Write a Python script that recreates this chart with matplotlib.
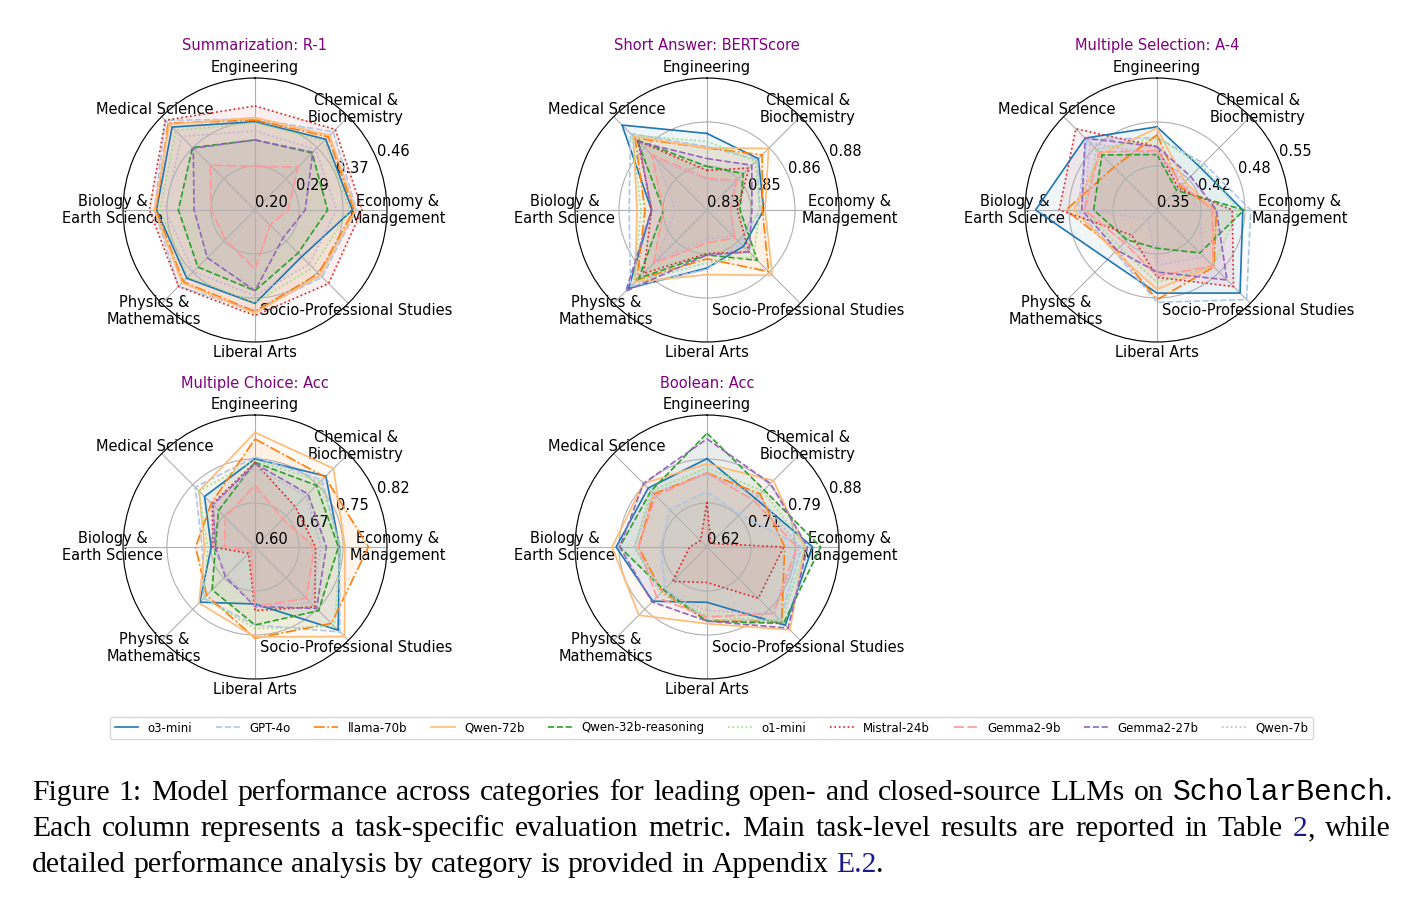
import numpy as np
import matplotlib.pyplot as plt
from matplotlib.lines import Line2D

categories = ['Engineering', 'Chemical &\nBiochemistry', 'Economy &\nManagement',
              'Socio-Professional Studies', 'Liberal Arts', 'Physics &\nMathematics',
              'Biology &\nEarth Science', 'Medical Science']
models = ['o3-mini', 'GPT-4o', 'llama-70b', 'Qwen-72b', 'Qwen-32b-reasoning',
          'o1-mini', 'Mistral-24b', 'Gemma2-9b', 'Gemma2-27b', 'Qwen-7b']

# values per model, categories in the order above
summ_r1 = {
    'o3-mini':            [0.374, 0.397, 0.392, 0.330, 0.384, 0.390, 0.394, 0.431],
    'GPT-4o':             [0.379, 0.418, 0.400, 0.387, 0.398, 0.413, 0.398, 0.450],
    'llama-70b':          [0.377, 0.404, 0.395, 0.377, 0.400, 0.400, 0.395, 0.442],
    'Qwen-72b':           [0.382, 0.408, 0.398, 0.382, 0.403, 0.403, 0.398, 0.439],
    'Qwen-32b-reasoning': [0.338, 0.359, 0.343, 0.320, 0.359, 0.359, 0.351, 0.374],
    'o1-mini':            [0.372, 0.392, 0.387, 0.361, 0.382, 0.387, 0.387, 0.421],
    'Mistral-24b':        [0.405, 0.424, 0.411, 0.405, 0.408, 0.413, 0.408, 0.450],
    'Gemma2-9b':          [0.286, 0.320, 0.265, 0.242, 0.317, 0.283, 0.286, 0.325],
    'Gemma2-27b':         [0.338, 0.361, 0.299, 0.278, 0.359, 0.333, 0.320, 0.372],
    'Qwen-7b':            [0.356, 0.369, 0.361, 0.351, 0.369, 0.372, 0.377, 0.405],
}
short_bert = {
    'o3-mini':            [0.859, 0.8575, 0.8515, 0.8495, 0.852, 0.872, 0.851, 0.8755],
    'GPT-4o':             [0.854, 0.857, 0.850, 0.848, 0.8525, 0.871, 0.8595, 0.871],
    'llama-70b':          [0.8535, 0.8595, 0.851, 0.863, 0.8485, 0.8675, 0.8535, 0.8685],
    'Qwen-72b':           [0.8535, 0.863, 0.852, 0.865, 0.8545, 0.8685, 0.8565, 0.8695],
    'Qwen-32b-reasoning': [0.8465, 0.8495, 0.8425, 0.857, 0.847, 0.8665, 0.8465, 0.8675],
    'o1-mini':            [0.856, 0.856, 0.850, 0.855, 0.850, 0.869, 0.855, 0.870],
    'Mistral-24b':        [0.845, 0.8525, 0.8415, 0.8525, 0.8465, 0.864, 0.851, 0.867],
    'Gemma2-9b':          [0.842, 0.846, 0.839, 0.845, 0.8425, 0.8585, 0.8465, 0.8595],
    'Gemma2-27b':         [0.8495, 0.854, 0.847, 0.8525, 0.847, 0.8735, 0.851, 0.8665],
    'Qwen-7b':            [0.8415, 0.845, 0.839, 0.844, 0.841, 0.857, 0.842, 0.857],
}
msel_a4 = {
    'o3-mini':            [0.476, 0.442, 0.480, 0.528, 0.476, 0.456, 0.534, 0.504],
    'GPT-4o':             [0.460, 0.450, 0.492, 0.542, 0.490, 0.440, 0.470, 0.500],
    'llama-70b':          [0.464, 0.400, 0.440, 0.472, 0.486, 0.436, 0.488, 0.442],
    'Qwen-72b':           [0.474, 0.410, 0.436, 0.470, 0.470, 0.440, 0.476, 0.470],
    'Qwen-32b-reasoning': [0.434, 0.392, 0.482, 0.442, 0.408, 0.414, 0.446, 0.468],
    'o1-mini':            [0.460, 0.446, 0.474, 0.470, 0.460, 0.430, 0.460, 0.480],
    'Mistral-24b':        [0.446, 0.396, 0.464, 0.514, 0.452, 0.404, 0.498, 0.524],
    'Gemma2-9b':          [0.440, 0.404, 0.434, 0.470, 0.450, 0.420, 0.460, 0.474],
    'Gemma2-27b':         [0.446, 0.422, 0.440, 0.500, 0.444, 0.436, 0.464, 0.504],
    'Qwen-7b':            [0.434, 0.410, 0.414, 0.450, 0.434, 0.370, 0.460, 0.494],
}
mc_acc = {
    'o3-mini':            [0.747, 0.767, 0.741, 0.796, 0.695, 0.730, 0.673, 0.719],
    'GPT-4o':             [0.750, 0.758, 0.741, 0.800, 0.730, 0.721, 0.688, 0.741],
    'llama-70b':          [0.780, 0.765, 0.789, 0.780, 0.752, 0.714, 0.699, 0.703],
    'Qwen-72b':           [0.791, 0.785, 0.750, 0.811, 0.750, 0.732, 0.684, 0.732],
    'Qwen-32b-reasoning': [0.741, 0.745, 0.739, 0.750, 0.730, 0.701, 0.666, 0.686],
    'o1-mini':            [0.745, 0.754, 0.743, 0.787, 0.736, 0.721, 0.679, 0.732],
    'Mistral-24b':        [0.741, 0.695, 0.701, 0.741, 0.706, 0.615, 0.670, 0.701],
    'Gemma2-9b':          [0.703, 0.666, 0.699, 0.721, 0.699, 0.609, 0.651, 0.670],
    'Gemma2-27b':         [0.739, 0.725, 0.719, 0.745, 0.699, 0.670, 0.666, 0.699],
    'Qwen-7b':            [0.732, 0.721, 0.710, 0.732, 0.699, 0.666, 0.670, 0.699],
}
bool_acc = {
    'o3-mini':            [0.794, 0.755, 0.828, 0.838, 0.729, 0.771, 0.799, 0.784],
    'GPT-4o':             [0.729, 0.711, 0.807, 0.823, 0.763, 0.737, 0.711, 0.724],
    'llama-70b':          [0.766, 0.768, 0.773, 0.828, 0.766, 0.745, 0.755, 0.768],
    'Qwen-72b':           [0.784, 0.805, 0.812, 0.851, 0.771, 0.810, 0.807, 0.797],
    'Qwen-32b-reasoning': [0.844, 0.779, 0.844, 0.833, 0.766, 0.740, 0.792, 0.776],
    'o1-mini':            [0.776, 0.776, 0.815, 0.828, 0.755, 0.750, 0.763, 0.776],
    'Mistral-24b':        [0.708, 0.630, 0.771, 0.763, 0.690, 0.716, 0.654, 0.638],
    'Gemma2-9b':          [0.766, 0.750, 0.797, 0.805, 0.758, 0.760, 0.755, 0.763],
    'Gemma2-27b':         [0.833, 0.797, 0.818, 0.846, 0.766, 0.773, 0.792, 0.797],
    'Qwen-7b':            [0.763, 0.763, 0.802, 0.807, 0.745, 0.745, 0.763, 0.771],
}

titles = ['Summarization: R-1', 'Short Answer: BERTScore', 'Multiple Selection: A-4',
          'Multiple Choice: Acc', 'Boolean: Acc']
datasets = [summ_r1, short_bert, msel_a4, mc_acc, bool_acc]
ranges = [(0.20, 0.46), (0.83, 0.88), (0.35, 0.55), (0.60, 0.82), (0.62, 0.88)]

colors = plt.cm.tab20.colors[:10]
styles = ['-', '--', '-.', '-', '--', ':', ':', (0, (6, 2)), '--', ':']

W, H = 1421, 911
fig = plt.figure(figsize=(W / 100, H / 100), dpi=100)
centers = [(255, 210), (707, 210), (1157, 210), (255, 547), (707, 547)]
R = 132

angles = np.linspace(0, 2 * np.pi, len(categories), endpoint=False)
closed = np.append(angles, angles[0])

for title, data, (lo, hi), (cx, cy) in zip(titles, datasets, ranges, centers):
    ax = fig.add_axes([(cx - R) / W, 1 - (cy + R) / H, 2 * R / W, 2 * R / H],
                      projection='polar')
    ax.set_theta_offset(np.pi / 2)
    ax.set_theta_direction(-1)
    for i, m in enumerate(models):
        vals = data[m] + data[m][:1]
        ax.plot(closed, vals, color=colors[i], ls=styles[i], lw=1.2)
        ax.fill(closed, vals, color=colors[i], alpha=0.07)
    ax.set_ylim(lo, hi)
    ticks = np.linspace(lo, hi, 4)
    ax.set_yticks(ticks)
    ax.set_yticklabels(['%.2f' % t for t in ticks], fontsize=10.5)
    ax.set_rlabel_position(67.5)
    ax.set_xticks(angles)
    ax.set_xticklabels(categories, fontsize=10.5)
    ax.tick_params(axis='x', pad=-3)
    ax.text(0.5, 1 + 32 / 264, title, transform=ax.transAxes, ha='center',
            va='center', color='purple', fontsize=10.5)

handles = [Line2D([], [], color=colors[i], ls=styles[i], lw=1.2) for i in range(10)]
fig.legend(handles, models, loc='center', ncol=10, mode='expand', fontsize=8.5,
           borderaxespad=0, bbox_to_anchor=(110 / W, 1 - 738 / H, 1203 / W, 20 / H))

# caption, justified like the paper
serif = dict(family='Liberation Serif', fontsize=21.3, va='baseline', ha='left')
mono = dict(serif, family='Liberation Mono')
blue = dict(serif, color='#1a1a8c')

line1 = [[(w, serif)] for w in 'Figure 1: Model performance across categories for leading '
         'open- and closed-source LLMs on'.split()] + [[('ScholarBench', mono), ('.', serif)]]
line2 = [[(w, serif)] for w in 'Each column represents a task-specific evaluation metric. '
         'Main task-level results are reported in Table'.split()] + \
        [[('2', blue), (',', serif)], [('while', serif)]]
line3 = [[(w, serif)] for w in 'detailed performance analysis by category is provided in '
         'Appendix'.split()] + [[('E.2', blue), ('.', serif)]]

fig.canvas.draw()
rend = fig.canvas.get_renderer()


def caption_line(words, y, justify, x0=32, x1=1393):
    placed = []
    total = 0
    for w in words:
        parts = []
        for s, kw in w:
            t = fig.text(0, 0, s, **kw)
            wd = t.get_window_extent(rend).width
            parts.append((t, wd))
            total += wd
        placed.append(parts)
    if justify:
        gap = (x1 - x0 - total) / (len(words) - 1)
    else:
        gap = 21.3 * 0.25 * 100 / 72
    x = x0
    for parts in placed:
        for t, wd in parts:
            t.set_position((x / W, 1 - y / H))
            x += wd
        x += gap


caption_line(line1, 800, True)
caption_line(line2, 836, True, x1=1391)
caption_line(line3, 872, False)

fig.savefig('out.png', dpi=100)
